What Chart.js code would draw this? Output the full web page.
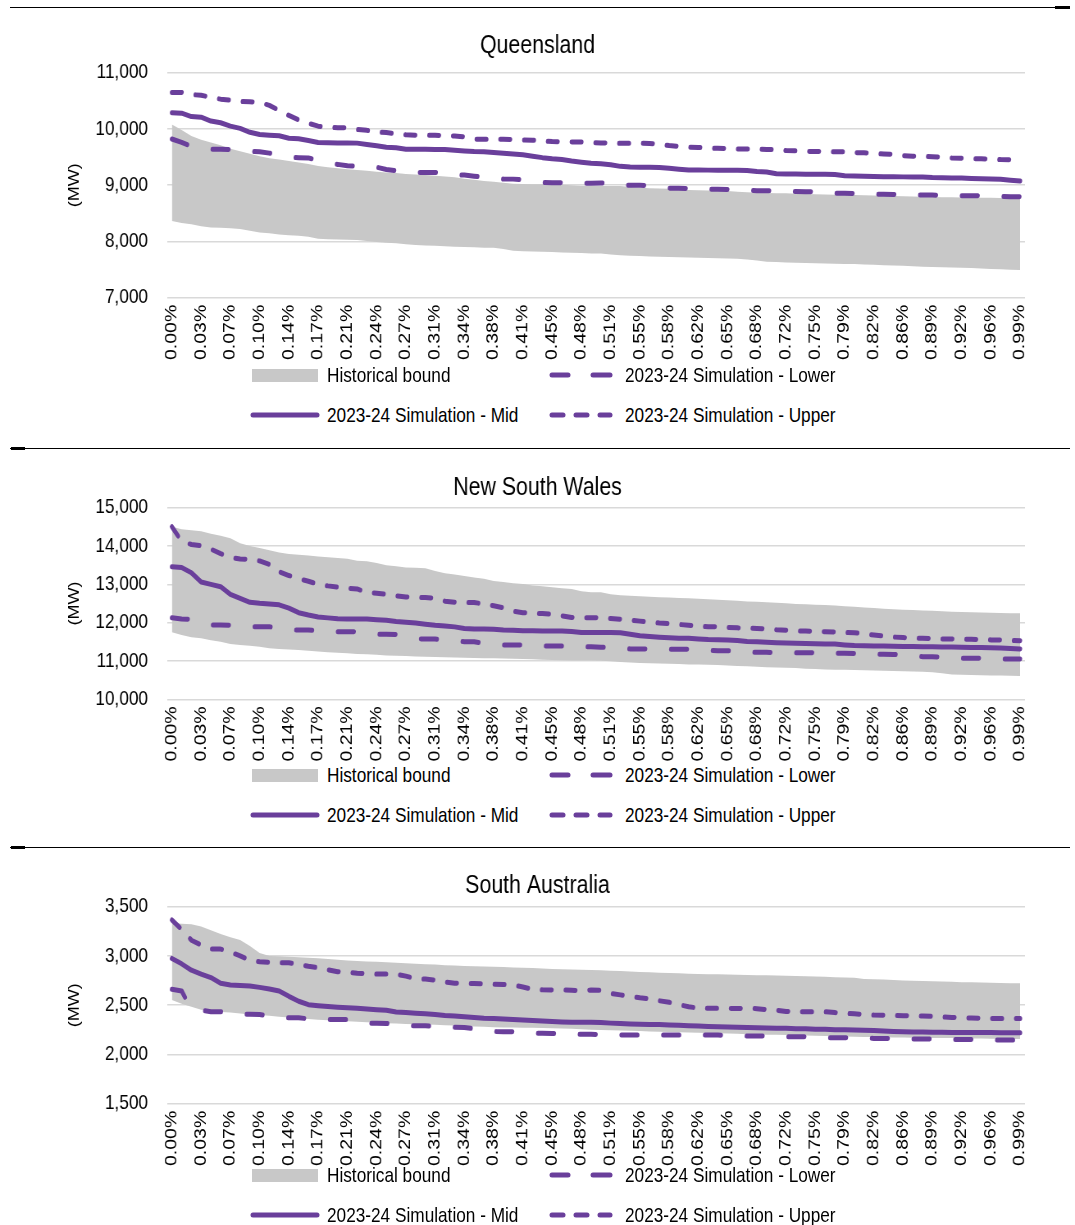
<!DOCTYPE html>
<html>
<head>
<meta charset="utf-8">
<script src="https://cdn.jsdelivr.net/npm/chart.js@4.4.1/dist/chart.umd.min.js"></script>
<style>
  html, body { margin: 0; padding: 0; background: #fff; }
  #page { position: relative; width: 1075px; height: 1225px; overflow: hidden; background: #fff; }
  canvas { position: absolute; left: 0; transform-origin: 0 0; }
  .sep { position: absolute; background: #000; }
  .leg { position: absolute; font-family: 'Liberation Sans', Arial, sans-serif; font-size: 21px; color: #000; white-space: nowrap; line-height: 24px; transform-origin: 0 50%; }
  .sw { position: absolute; }
</style>
</head>
<body>
<div id="page">
  <div class="sep" style="left:10px;top:7px;width:1060px;height:1px"></div>
  <div class="sep" style="left:1055px;top:6px;width:15px;height:3px"></div>
  <div class="sep" style="left:10px;top:448px;width:1060px;height:1px"></div>
  <div class="sep" style="left:11px;top:447px;width:14px;height:3px"></div>
  <div class="sep" style="left:10px;top:847px;width:1060px;height:1px"></div>
  <div class="sep" style="left:11px;top:846px;width:14px;height:3px"></div>
  <canvas id="c1" height="360" style="top:10px"></canvas>
  <canvas id="c2" height="310" style="top:452px"></canvas>
  <canvas id="c3" height="374" style="top:851px"></canvas>
</div>
<script>
// ---------- categories (share of hours, top 1%) ----------
const categories = [
  "0.00%","0.01%","0.02%","0.03%","0.05%","0.06%","0.07%","0.08%","0.09%","0.10%",
  "0.11%","0.13%","0.14%","0.15%","0.16%","0.17%","0.18%","0.19%","0.21%","0.22%",
  "0.23%","0.24%","0.25%","0.26%","0.27%","0.29%","0.30%","0.31%","0.32%","0.33%",
  "0.34%","0.35%","0.37%","0.38%","0.39%","0.40%","0.41%","0.42%","0.43%","0.45%",
  "0.46%","0.47%","0.48%","0.49%","0.50%","0.51%","0.53%","0.54%","0.55%","0.56%",
  "0.57%","0.58%","0.59%","0.61%","0.62%","0.63%","0.64%","0.65%","0.66%","0.67%",
  "0.68%","0.70%","0.71%","0.72%","0.73%","0.74%","0.75%","0.76%","0.78%","0.79%",
  "0.80%","0.81%","0.82%","0.83%","0.84%","0.86%","0.87%","0.88%","0.89%","0.90%",
  "0.91%","0.92%","0.94%","0.95%","0.96%","0.97%","0.98%","0.99%"
];

const seriesNames = ["2023-24 Simulation - Upper", "2023-24 Simulation - Mid", "2023-24 Simulation - Lower", "Historical bound"];

// ---------- Queensland (MW) ----------
const qldUpper = [10650,10650,10610,10600,10560,10530,10510,10490,10485,10470,10420,10330,10240,10160,10100,10050,10030,10022,10020,9990,9975,9945,9935,9915,9895,9890,9890,9888,9880,9875,9860,9820,9815,9815,9815,9812,9805,9800,9785,9775,9772,9770,9768,9755,9752,9750,9745,9745,9745,9742,9730,9705,9690,9675,9670,9660,9655,9652,9645,9642,9638,9636,9630,9615,9610,9602,9600,9598,9595,9592,9580,9576,9565,9555,9548,9525,9515,9510,9507,9500,9485,9480,9473,9470,9465,9455,9452,9450];
const qldMid = [10289,10280,10220,10210,10140,10110,10050,10010,9940,9900,9890,9880,9835,9825,9795,9760,9755,9752,9750,9748,9725,9700,9675,9665,9640,9637,9637,9636,9635,9622,9610,9600,9595,9580,9568,9555,9540,9515,9490,9470,9455,9430,9410,9390,9380,9365,9335,9325,9320,9318,9316,9300,9285,9272,9270,9268,9266,9265,9264,9260,9245,9235,9205,9200,9198,9196,9195,9194,9190,9170,9165,9160,9155,9150,9150,9148,9145,9145,9135,9133,9130,9128,9120,9115,9110,9105,9090,9075];
const qldLower = [9821,9760,9690,9660,9640,9637,9635,9620,9600,9595,9570,9530,9495,9490,9485,9440,9390,9370,9345,9335,9330,9320,9280,9255,9235,9228,9228,9226,9210,9185,9180,9160,9140,9120,9110,9108,9095,9070,9050,9045,9044,9040,9035,9035,9040,9025,9005,9000,8998,8990,8960,8948,8944,8940,8932,8928,8926,8924,8915,8905,8903,8902,8895,8888,8886,8884,8883,8870,8858,8855,8853,8845,8838,8837,8836,8830,8826,8825,8824,8820,8815,8813,8812,8810,8805,8798,8796,8795];
const qldHistHigh = [10081,9980,9874,9810,9760,9710,9650,9605,9560,9515,9480,9455,9430,9405,9375,9340,9320,9300,9285,9270,9255,9240,9225,9215,9200,9190,9180,9170,9155,9140,9115,9095,9075,9062,9045,9025,9020,9018,9016,9015,9010,9000,8990,8985,8985,8985,8985,8970,8955,8945,8940,8935,8925,8915,8910,8905,8903,8895,8885,8875,8868,8862,8858,8855,8850,8845,8840,8835,8830,8826,8825,8820,8815,8810,8806,8802,8798,8796,8792,8788,8785,8782,8780,8778,8775,8772,8769,8766];
const qldHistLow = [8363,8330,8304,8270,8250,8245,8233,8220,8190,8160,8144,8125,8110,8100,8085,8050,8040,8035,8030,8025,8010,7990,7975,7966,7950,7935,7930,7922,7915,7907,7900,7895,7890,7889,7865,7835,7828,7822,7818,7812,7805,7800,7795,7788,7785,7770,7755,7747,7740,7733,7728,7723,7718,7715,7710,7705,7700,7695,7692,7680,7660,7640,7634,7628,7622,7616,7612,7608,7604,7600,7598,7592,7585,7578,7572,7566,7558,7551,7545,7540,7536,7532,7527,7520,7512,7505,7498,7492];

// ---------- New South Wales (MW) ----------
const nswUpper = [14504,14120,14040,14010,13920,13800,13700,13660,13655,13610,13520,13330,13230,13150,13080,13000,12960,12930,12900,12880,12790,12770,12740,12700,12670,12661,12655,12640,12560,12535,12530,12525,12490,12440,12390,12300,12260,12245,12238,12220,12180,12135,12130,12130,12125,12110,12090,12070,12040,12015,11990,11975,11955,11930,11905,11896,11890,11878,11865,11855,11850,11835,11815,11805,11785,11780,11772,11765,11755,11745,11738,11705,11678,11650,11625,11610,11598,11591,11585,11576,11572,11568,11565,11560,11550,11545,11538,11530];
const nswMid = [13461,13440,13300,13060,13000,12939,12740,12635,12530,12504,12485,12465,12380,12260,12200,12150,12125,12100,12096,12096,12096,12075,12060,12030,12010,11990,11960,11930,11910,11890,11850,11835,11835,11830,11810,11800,11792,11788,11785,11783,11780,11768,11745,11745,11742,11740,11738,11700,11660,11640,11620,11605,11595,11590,11575,11560,11552,11548,11535,11510,11500,11490,11478,11470,11462,11458,11450,11445,11440,11420,11402,11398,11394,11390,11385,11380,11376,11374,11370,11366,11362,11358,11354,11350,11348,11340,11328,11313];
const nswLower = [12130,12096,12087,11980,11939,11939,11935,11910,11896,11896,11894,11860,11812,11809,11808,11790,11767,11765,11765,11762,11730,11700,11696,11690,11640,11580,11574,11572,11540,11510,11504,11500,11460,11425,11418,11417,11414,11400,11392,11391,11388,11382,11376,11370,11357,11350,11330,11315,11313,11312,11308,11305,11304,11303,11290,11272,11270,11268,11250,11228,11226,11225,11222,11218,11217,11216,11212,11205,11200,11200,11198,11190,11175,11174,11172,11150,11120,11113,11110,11100,11085,11072,11070,11068,11060,11054,11052,11050];
const nswHistHigh = [14504,14435,14410,14385,14320,14270,14200,14070,14000,13950,13890,13830,13790,13770,13750,13725,13705,13690,13670,13615,13600,13560,13500,13470,13440,13430,13417,13350,13290,13260,13220,13180,13145,13090,13060,13030,13010,12970,12950,12925,12900,12880,12820,12795,12791,12740,12715,12705,12690,12675,12665,12655,12645,12635,12625,12612,12598,12585,12572,12555,12548,12535,12520,12505,12490,12478,12468,12458,12445,12430,12415,12398,12380,12362,12350,12340,12330,12320,12310,12298,12287,12280,12272,12265,12258,12252,12248,12243];
const nswHistLow = [11748,11675,11620,11591,11540,11500,11443,11420,11400,11370,11330,11315,11300,11287,11270,11250,11226,11212,11200,11185,11175,11160,11145,11139,11130,11120,11113,11105,11095,11088,11082,11076,11072,11070,11065,11058,11052,11045,11035,11026,11020,11015,11012,11010,11005,10990,10975,10960,10948,10940,10932,10925,10918,10910,10905,10900,10896,10885,10872,10860,10850,10838,10830,10826,10815,10800,10790,10780,10772,10768,10765,10758,10752,10745,10738,10732,10727,10722,10705,10680,10650,10640,10635,10628,10622,10618,10612,10609];

// ---------- South Australia (MW) ----------
const saUpper = [3365,3270,3160,3110,3070,3070,3040,3000,2955,2942,2935,2932,2931,2915,2895,2880,2860,2840,2835,2825,2820,2816,2816,2815,2795,2768,2765,2755,2735,2723,2722,2720,2715,2712,2710,2705,2685,2661,2656,2654,2654,2652,2648,2654,2650,2620,2605,2590,2575,2565,2545,2530,2505,2485,2470,2468,2468,2468,2467,2466,2465,2455,2450,2436,2434,2434,2434,2433,2425,2418,2412,2405,2400,2398,2396,2394,2391,2390,2386,2380,2376,2374,2370,2367,2366,2366,2366,2366];
const saMid = [2975,2920,2855,2815,2780,2722,2705,2700,2695,2681,2665,2645,2590,2540,2505,2495,2487,2480,2475,2468,2462,2455,2448,2432,2425,2418,2412,2405,2396,2390,2382,2375,2368,2364,2360,2354,2349,2345,2340,2334,2330,2328,2327,2326,2325,2318,2313,2310,2307,2305,2303,2300,2296,2292,2288,2285,2282,2279,2276,2273,2270,2268,2266,2265,2262,2260,2257,2255,2252,2250,2248,2245,2242,2238,2234,2231,2229,2227,2226,2225,2224,2223,2223,2222,2222,2221,2221,2221];
const saLower = [2661,2645,2455,2450,2434,2434,2420,2408,2407,2406,2390,2375,2373,2372,2362,2357,2356,2355,2355,2340,2318,2316,2315,2305,2293,2292,2291,2285,2277,2275,2274,2260,2245,2232,2231,2230,2222,2215,2214,2213,2208,2205,2204,2204,2202,2199,2197,2197,2197,2197,2197,2197,2197,2197,2197,2197,2197,2194,2190,2188,2187,2186,2183,2180,2180,2179,2175,2171,2170,2170,2167,2164,2163,2163,2162,2159,2157,2157,2156,2155,2153,2153,2152,2150,2147,2146,2146,2146];
const saHistHigh = [3331,3328,3322,3300,3260,3223,3190,3162,3100,3030,3000,2996,2992,2988,2982,2977,2970,2962,2955,2948,2944,2940,2936,2932,2926,2920,2915,2912,2906,2902,2899,2896,2893,2891,2888,2884,2881,2877,2872,2868,2865,2862,2859,2857,2855,2851,2846,2842,2838,2834,2830,2827,2824,2820,2818,2815,2813,2811,2809,2807,2805,2803,2801,2800,2797,2794,2791,2788,2785,2781,2779,2767,2764,2760,2755,2750,2747,2745,2742,2740,2737,2734,2732,2730,2728,2726,2724,2722];
const saHistLow = [2552,2515,2485,2455,2440,2430,2425,2415,2405,2400,2392,2382,2375,2368,2360,2352,2347,2342,2337,2332,2328,2322,2317,2314,2310,2307,2305,2301,2297,2293,2290,2285,2280,2275,2274,2273,2272,2270,2268,2266,2264,2260,2255,2250,2248,2246,2243,2240,2237,2233,2230,2228,2225,2222,2220,2217,2214,2212,2209,2206,2203,2201,2199,2197,2195,2192,2190,2187,2184,2182,2180,2178,2177,2175,2173,2172,2170,2170,2168,2167,2166,2165,2163,2162,2160,2159,2158,2157];

// ---------- axis ticks ----------
const qldTicks = { min: 7000, max: 11000, step: 1000 };
const nswTicks = { min: 10000, max: 15000, step: 1000 };
const saTicks  = { min: 1500, max: 3500, step: 500 };

// ---------- styling ----------
// The reference is horizontally condensed: draw on a wider canvas and squeeze it to 1075px.
const PAGE_W = 1075;
const CANVAS_W = 1311;
const SX = PAGE_W / CANVAS_W;
const PURPLE = '#6A3F9B';
const GREY = '#C8C8C8';
const FONT = "'Liberation Sans', Arial, sans-serif";
const UPPER_DASH = [12, 17];
const LOWER_DASH = [19.5, 31.4];
const LW = 5;

Chart.defaults.font.family = FONT;
Chart.defaults.color = '#000';

function makeChart(id, title, upper, mid, lower, histHigh, histLow, ticks, lay) {
  const cv = document.getElementById(id);
  cv.width = CANVAS_W;
  cv.style.transform = 'scaleX(' + SX + ')';
  return new Chart(cv, {
    type: 'line',
    data: {
      labels: categories,
      datasets: [
        { label: seriesNames[0], data: upper, borderColor: PURPLE, borderWidth: LW, borderDash: UPPER_DASH, borderCapStyle: 'round', borderJoinStyle: 'round', pointRadius: 0, fill: false, tension: 0 },
        { label: seriesNames[1], data: mid, borderColor: PURPLE, borderWidth: LW, borderCapStyle: 'round', borderJoinStyle: 'round', pointRadius: 0, fill: false, tension: 0 },
        { label: seriesNames[2], data: lower, borderColor: PURPLE, borderWidth: LW, borderDash: LOWER_DASH, borderCapStyle: 'round', borderJoinStyle: 'round', pointRadius: 0, fill: false, tension: 0 },
        { label: seriesNames[3], data: histHigh, borderColor: 'rgba(0,0,0,0)', borderWidth: 0, backgroundColor: GREY, pointRadius: 0, fill: '+1', tension: 0 },
        { label: seriesNames[3] + ' (low)', data: histLow, borderColor: 'rgba(0,0,0,0)', borderWidth: 0, backgroundColor: GREY, pointRadius: 0, fill: false, tension: 0 }
      ]
    },
    options: {
      responsive: false,
      animation: false,
      devicePixelRatio: 1,
      layout: { padding: 0 },
      plugins: {
        legend: { display: false },
        tooltip: { enabled: false },
        title: {
          display: true, text: title, color: '#000',
          font: { family: FONT, size: 26, weight: 'normal' },
          padding: { top: lay.titleTop, bottom: lay.titleBottom }
        }
      },
      scales: {
        x: {
          type: 'category',
          offset: true,
          grid: { display: false, drawTicks: false },
          border: { display: false },
          ticks: {
            autoSkip: false, minRotation: 90, maxRotation: 90, padding: 7,
            color: '#000', font: { family: FONT, size: 19.5 },
            callback: function (val, idx) { return idx % 3 === 0 ? this.getLabelForValue(val) : null; }
          },
          afterFit: function (s) { s.height = lay.xHeight; s.paddingLeft = 0; s.paddingRight = 0; }
        },
        y: {
          min: ticks.min, max: ticks.max,
          grid: { color: '#D9D9D9', lineWidth: 1.5, drawTicks: false },
          border: { display: false },
          ticks: {
            stepSize: ticks.step, padding: 19 / SX, color: '#000',
            font: { family: FONT, size: 21 },
            callback: function (v) { return Number(v).toLocaleString('en-US'); }
          },
          title: { display: true, text: '(MW)', color: '#000', font: { family: FONT, size: 18 }, padding: { top: 75 / SX - 10.8, bottom: 0 } },
          afterFit: function (s) { s.width = 167 / SX; s.paddingTop = 0; s.paddingBottom = 0; }
        },
        // empty right margin (keeps the title centred on the whole panel)
        yRight: {
          type: 'linear', position: 'right', min: ticks.min, max: ticks.max,
          grid: { display: false, drawTicks: false },
          border: { display: false },
          ticks: { display: false },
          afterFit: function (s) { s.width = 50 / SX; s.paddingTop = 0; s.paddingBottom = 0; }
        }
      }
    }
  });
}

makeChart('c1', 'Queensland', qldUpper, qldMid, qldLower, qldHistHigh, qldHistLow, qldTicks,
  { titleTop: 20.4, titleBottom: 11.1, xHeight: 72.3 });
makeChart('c2', 'New South Wales', nswUpper, nswMid, nswLower, nswHistHigh, nswHistLow, nswTicks,
  { titleTop: 20.4, titleBottom: 4.1, xHeight: 62.7 });
makeChart('c3', 'South Australia', saUpper, saMid, saLower, saHistHigh, saHistLow, saTicks,
  { titleTop: 19.4, titleBottom: 5.1, xHeight: 121.3 });

// ---------- HTML legends (2 x 2 grid as in the reference) ----------
function svgDash(w, dashes) {
  let s = '<svg width="' + w + '" height="10" style="display:block">';
  dashes.forEach(d => {
    s += '<line x1="' + d[0] + '" y1="5" x2="' + d[1] + '" y2="5" stroke="' + PURPLE + '" stroke-width="' + LW + '" stroke-linecap="round"/>';
  });
  return s + '</svg>';
}
function addLegend(row1Y, row2Y) {
  const page = document.getElementById('page');
  const items = [
    { x: 252, y: row1Y, tx: 327, text: seriesNames[3], sw: '<div style="width:66px;height:13px;background:' + GREY + '"></div>', sh: 13 },
    { x: 548, y: row1Y, tx: 625, text: seriesNames[2], sw: svgDash(66, [[4, 20], [45, 62]]), sh: 10 },
    { x: 250, y: row2Y, tx: 327, text: seriesNames[1], sw: svgDash(70, [[3, 67]]), sh: 10 },
    { x: 548, y: row2Y, tx: 625, text: seriesNames[0], sw: svgDash(66, [[4, 15], [28, 39], [52, 62]]), sh: 10 }
  ];
  items.forEach(it => {
    const sw = document.createElement('div');
    sw.className = 'sw';
    sw.style.left = it.x + 'px';
    sw.style.top = (it.y - it.sh / 2) + 'px';
    sw.innerHTML = it.sw;
    page.appendChild(sw);
    const t = document.createElement('div');
    t.className = 'leg';
    t.style.left = it.tx + 'px';
    t.style.top = (it.y - 12) + 'px';
    t.style.transform = 'scaleX(' + SX + ')';
    t.textContent = it.text;
    page.appendChild(t);
  });
}
addLegend(375, 415);
addLegend(775, 815);
addLegend(1175, 1215);
</script>
</body>
</html>
